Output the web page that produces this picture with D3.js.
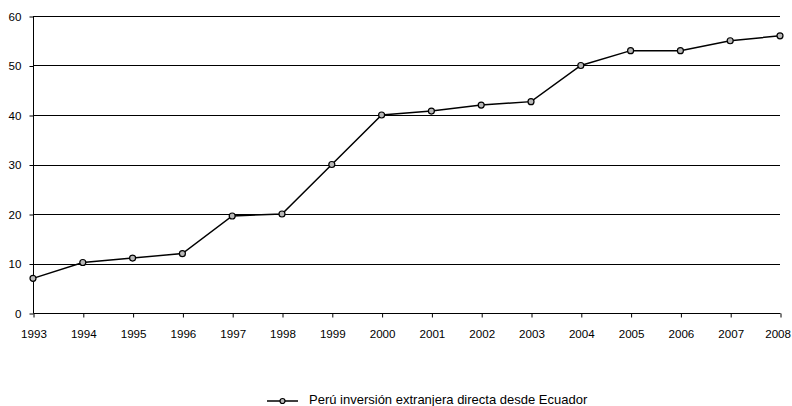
<!DOCTYPE html>
<html lang="es">
<head>
  <meta charset="UTF-8">
  <title>Perú inversión extranjera directa desde Ecuador</title>
  <script src="https://d3js.org/d3.v7.min.js"></script>
  <style>
    body {
      margin: 0;
      background: #fff;
      font-family: 'Liberation Sans', Arial, sans-serif;
    }
    .axis text {
      font-family: 'Liberation Sans', Arial, sans-serif;
      font-size: 11.6px;
      fill: #000;
    }
    .axis path, .axis line {
      stroke: #000;
    }
    .grid line {
      stroke: #000;
      stroke-width: 1;
    }
    .legend text {
      font-size: 13px;
      fill: #000;
    }
  </style>
</head>
<body>
<svg width="792" height="406"></svg>
<script>
  const years = ["1993", "1994", "1995", "1996", "1997", "1998", "1999", "2000",
                 "2001", "2002", "2003", "2004", "2005", "2006", "2007", "2008"];
  const values = [7, 10.2, 11.1, 12, 19.6, 20, 30, 40, 40.8, 42, 42.7, 50, 53, 53, 55, 56];
  const yTicks = [0, 10, 20, 30, 40, 50, 60];
  const seriesName = "Perú inversión extranjera directa desde Ecuador";

  const svg = d3.select("svg");
  const margin = { top: 16, right: 12, bottom: 93, left: 33 };
  const width = 792 - margin.left - margin.right,
        height = 406 - margin.top - margin.bottom;

  const g = svg.append("g")
    .attr("transform", `translate(${margin.left},${margin.top})`);

  const x = d3.scalePoint()
    .domain(years)
    .range([0, width]);

  const y = d3.scaleLinear()
    .domain([0, 60])
    .range([height, 0]);

  // horizontal gridlines
  g.append("g")
    .attr("class", "grid")
    .selectAll("line")
    .data(yTicks.filter(d => d > 0))
    .join("line")
    .attr("x1", 0)
    .attr("x2", width)
    .attr("y1", d => Math.round(y(d)) + 0.5)
    .attr("y2", d => Math.round(y(d)) + 0.5);

  // y axis
  g.append("g")
    .attr("class", "axis")
    .attr("transform", "translate(0.5,0.5)")
    .call(d3.axisLeft(y).tickValues(yTicks).tickSize(4).tickPadding(8))
    .call(a => a.select(".domain").attr("d", `M0,${height}V0`));

  // x axis
  g.append("g")
    .attr("class", "axis")
    .attr("transform", `translate(0.5,${Math.round(height) + 0.5})`)
    .call(d3.axisBottom(x).tickSize(4).tickPadding(12))
    .call(a => a.select(".domain").attr("d", `M0,0H${width}`))
    // keep the last year inside the page edge
    .call(a => a.selectAll(".tick text")
      .filter(d => d === years[years.length - 1])
      .attr("text-anchor", "end")
      .attr("dx", 10));

  // line
  const line = d3.line()
    .x((d, i) => x(years[i]))
    .y(d => y(d));

  g.append("path")
    .datum(values)
    .attr("fill", "none")
    .attr("stroke", "#000")
    .attr("stroke-width", 1.5)
    .attr("d", line);

  g.append("g")
    .selectAll("circle")
    .data(values)
    .join("circle")
    .attr("cx", (d, i) => x(years[i]))
    .attr("cy", d => y(d))
    .attr("r", 3)
    .attr("fill", "#b8b8b8")
    .attr("stroke", "#000")
    .attr("stroke-width", 1.2);

  // legend
  const legend = svg.append("g")
    .attr("class", "legend")
    .attr("transform", "translate(267,401)");

  legend.append("line")
    .attr("x1", 0)
    .attr("x2", 31)
    .attr("stroke", "#000")
    .attr("stroke-width", 1.5);

  legend.append("circle")
    .attr("cx", 15.5)
    .attr("r", 2.5)
    .attr("fill", "#b8b8b8")
    .attr("stroke", "#000")
    .attr("stroke-width", 1.2);

  legend.append("text")
    .attr("x", 42)
    .attr("y", 2.5)
    .text(seriesName);
</script>
</body>
</html>
